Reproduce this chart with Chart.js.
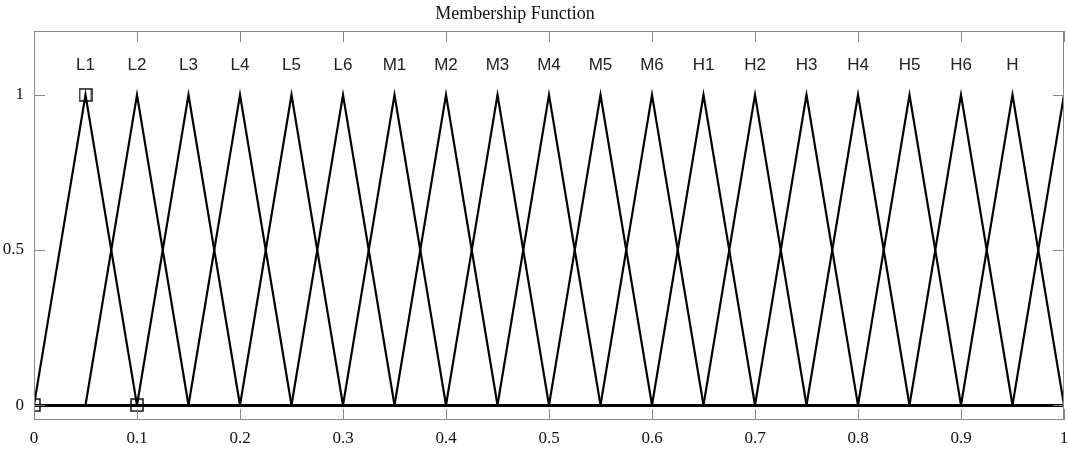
<!DOCTYPE html>
<html>
<head>
<meta charset="utf-8">
<script src="https://cdn.jsdelivr.net/npm/chart.js@4/dist/chart.umd.min.js"></script>
<style>
  html, body { margin: 0; padding: 0; background: #fff; }
  #wrap { width: 1068px; height: 450px; }
</style>
</head>
<body>
<div id="wrap"><canvas id="mf"></canvas></div>
<script>
// membership function peaks (triangles, half width 0.05)
const peaks = [0.05, 0.1, 0.15, 0.2, 0.25, 0.3, 0.35, 0.4, 0.45, 0.5,
               0.55, 0.6, 0.65, 0.7, 0.75, 0.8, 0.85, 0.9, 0.95, 1.0];
const names = ['L1', 'L2', 'L3', 'L4', 'L5', 'L6', 'M1', 'M2', 'M3', 'M4',
               'M5', 'M6', 'H1', 'H2', 'H3', 'H4', 'H5', 'H6', 'H'];
const halfWidth = 0.05;
const xTicks = [0, 0.1, 0.2, 0.3, 0.4, 0.5, 0.6, 0.7, 0.8, 0.9, 1];
const yTicks = [0, 0.5, 1];
const labelY = 1.097;
// selected vertex markers
const markX = [0.05, 0, 0.1];
const markY = [1, 0, 0];

const serif = '"Liberation Serif", "Times New Roman", serif';

function triangle(p) {
  const eps = 1e-9;
  const pts = [{x: 0, y: 0}];
  const a = p - halfWidth, b = p + halfWidth;
  if (a > eps) pts.push({x: a, y: 0});
  pts.push({x: p, y: 1});
  if (b <= 1 + eps) {
    pts.push({x: b, y: 0});
    if (b < 1 - eps) pts.push({x: 1, y: 0});
  }
  return pts;
}

// square marker drawn as an image so it doesn't add layout overflow
const sq = document.createElement('canvas');
sq.width = 14; sq.height = 14;
(function () {
  const c = sq.getContext('2d');
  c.strokeStyle = '#111';
  c.lineWidth = 1.5;
  c.strokeRect(1, 1, 12, 12);
})();

const datasets = peaks.map(p => ({
  data: triangle(p),
  borderColor: '#000',
  borderWidth: 2.2,
  pointRadius: 0,
  fill: false,
  tension: 0
}));
datasets.push({
  data: markX.map((x, i) => ({x: x, y: markY[i]})),
  showLine: false,
  pointStyle: sq,
  pointRadius: 1,
  pointBorderWidth: 0
});

const boxPlugin = {
  id: 'box',
  afterDatasetsDraw(chart) {
    const {ctx, chartArea: a, scales} = chart;
    ctx.save();
    ctx.strokeStyle = '#888';
    ctx.lineWidth = 1;
    ctx.strokeRect(a.left + 0.5, a.top + 0.5, a.right - a.left - 1, a.bottom - a.top - 1);
    ctx.beginPath();
    xTicks.forEach(v => {
      const px = Math.round(scales.x.getPixelForValue(v)) + 0.5;
      ctx.moveTo(px, a.top); ctx.lineTo(px, a.top + 11);
      ctx.moveTo(px, a.bottom); ctx.lineTo(px, a.bottom - 11);
    });
    yTicks.forEach(v => {
      const py = Math.round(scales.y.getPixelForValue(v)) + 0.5;
      ctx.moveTo(a.left, py); ctx.lineTo(a.left + 11, py);
      ctx.moveTo(a.right, py); ctx.lineTo(a.right - 11, py);
    });
    ctx.stroke();
    // function names
    ctx.fillStyle = '#222';
    ctx.font = '17px "Liberation Sans", Arial, sans-serif';
    ctx.textAlign = 'center';
    ctx.textBaseline = 'middle';
    names.forEach((n, i) => {
      ctx.fillText(n, scales.x.getPixelForValue(peaks[i]), scales.y.getPixelForValue(labelY));
    });
    // title
    ctx.fillStyle = '#111';
    ctx.font = '18px ' + serif;
    ctx.fillText('Membership Function', 515, 14);
    ctx.restore();
  }
};

new Chart(document.getElementById('mf'), {
  type: 'line',
  data: { datasets: datasets },
  options: {
    responsive: true,
    maintainAspectRatio: false,
    animation: false,
    layout: { padding: { top: 31, right: 3, left: 0, bottom: 0 } },
    plugins: {
      legend: { display: false },
      tooltip: { enabled: false },
      title: { display: false }
    },
    scales: {
      x: {
        type: 'linear',
        min: 0, max: 1,
        afterBuildTicks: s => { s.ticks = xTicks.map(v => ({value: v})); },
        afterFit: s => { s.height = 30; s.paddingLeft = 0; s.paddingRight = 0; },
        grid: { display: false, drawTicks: false },
        border: { display: false },
        ticks: {
          color: '#111',
          padding: 8,
          maxRotation: 0,
          font: { family: serif, size: 17 },
          callback: v => String(v)
        }
      },
      y: {
        type: 'linear',
        min: -0.048, max: 1.206,
        afterBuildTicks: s => { s.ticks = yTicks.map(v => ({value: v})); },
        afterFit: s => { s.width = 34; s.paddingTop = 0; s.paddingBottom = 0; },
        grid: { display: false, drawTicks: false },
        border: { display: false },
        ticks: {
          color: '#111',
          padding: 10,
          font: { family: serif, size: 17 },
          callback: v => String(v)
        }
      }
    }
  },
  plugins: [boxPlugin]
});
</script>
</body>
</html>
